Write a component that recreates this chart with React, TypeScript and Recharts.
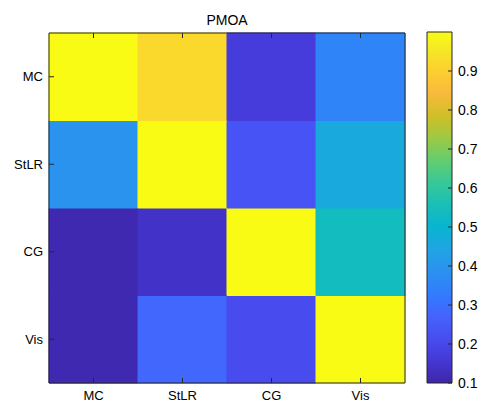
import React from "react";
import { BarChart, Bar, Cell, XAxis, YAxis } from "recharts";

const labels = ["MC", "StLR", "CG", "Vis"];
// rows top -> bottom, columns left -> right
const rowMC = [1.0, 0.92, 0.17, 0.35];
const rowStLR = [0.39, 1.0, 0.23, 0.46];
const rowCG = [0.11, 0.14, 1.0, 0.54];
const rowVis = [0.11, 0.28, 0.21, 1.0];
const matrix = [rowMC, rowStLR, rowCG, rowVis];
const cbTicks = [0.1, 0.2, 0.3, 0.4, 0.5, 0.6, 0.7, 0.8, 0.9];
const cMin = 0.1;
const cMax = 1.0;

// parula stops (MATLAB)
const parula = [
  [0.2422, 0.1504, 0.6603], [0.2706, 0.2147, 0.8364], [0.2813, 0.3006, 0.9414],
  [0.2699, 0.3892, 0.9906], [0.1963, 0.4847, 0.9892], [0.1687, 0.5703, 0.9359],
  [0.1248, 0.6459, 0.8883], [0.0297, 0.7082, 0.8163], [0.0964, 0.75, 0.712],
  [0.2161, 0.7843, 0.5923], [0.3909, 0.8029, 0.4354], [0.6174, 0.7876, 0.2612],
  [0.8203, 0.7498, 0.1535], [0.9728, 0.7298, 0.2394], [0.9892, 0.8136, 0.1885],
  [0.9597, 0.9135, 0.1423], [0.9769, 0.9839, 0.0805],
];
// last stop sits at the end, others evenly every 4/63
const stopPos = parula.map((_, i) => (i === parula.length - 1 ? 1 : (i * 4) / 63));

function colorAt(t: number) {
  const x = Math.max(0, Math.min(1, t));
  let i = 0;
  while (i < stopPos.length - 2 && x > stopPos[i + 1]) i++;
  const f = (x - stopPos[i]) / (stopPos[i + 1] - stopPos[i]);
  const c = parula[i].map((v, k) => Math.round(255 * (v + (parula[i + 1][k] - v) * f)));
  return `rgb(${c[0]},${c[1]},${c[2]})`;
}
const valueColor = (v: number) => colorAt((v - cMin) / (cMax - cMin));

// one stacked column per x category; r0 = top row
const data = labels.map((name, col) => ({
  name,
  r0: 1, r1: 1, r2: 1, r3: 1,
  c: matrix.map((row) => row[col]),
}));

const yTickPos = [3.5, 2.5, 1.5, 0.5];
const ink = "#262626";
const font = "'Liberation Sans', Arial, sans-serif";

export default function App() {
  return (
    <div style={{ position: "absolute", left: 0, top: 0, width: 484, height: 406, background: "#fff", fontFamily: font }}>
      <div style={{ position: "absolute", left: 49, width: 356, top: 12, textAlign: "center", fontSize: 14, color: "#000" }}>
        PMOA
      </div>
      <div style={{ position: "absolute", left: 0, top: 0 }}>
        <BarChart width={420} height={406} data={data} barCategoryGap={0} barGap={0}
          margin={{ top: 32, right: 14, bottom: 0, left: 0 }}>
          {[3, 2, 1, 0].map((r) => (
            <Bar key={r} dataKey={`r${r}`} stackId="s" isAnimationActive={false}>
              {data.map((d, i) => (
                <Cell key={i} fill={valueColor(d.c[r])} stroke={valueColor(d.c[r])} strokeWidth={1} />
              ))}
            </Bar>
          ))}
          <XAxis dataKey="name" height={23} tickSize={-5} tickMargin={13}
            axisLine={{ stroke: ink }} tickLine={{ stroke: ink }}
            tick={{ fill: "#000", fontSize: 13, fontFamily: font }} />
          <XAxis dataKey="name" xAxisId="top" orientation="top" height={1} tickSize={-5}
            tickFormatter={() => ""} axisLine={{ stroke: ink }} tickLine={{ stroke: ink }} />
          <YAxis type="number" domain={[0, 4]} ticks={yTickPos} width={49} tickSize={-5} tickMargin={11}
            tickFormatter={(v: number) => labels[yTickPos.indexOf(v)]}
            axisLine={{ stroke: ink }} tickLine={{ stroke: ink }}
            tick={{ fill: "#000", fontSize: 13, fontFamily: font }} />
          <YAxis type="number" yAxisId="right" orientation="right" domain={[0, 4]} ticks={yTickPos} width={1}
            tickSize={-5} tickFormatter={() => ""} axisLine={{ stroke: ink }} tickLine={{ stroke: ink }} />
        </BarChart>
      </div>
      <div style={{ position: "absolute", left: 420, top: 0 }}>
        <BarChart width={64} height={406} data={[{ name: "cb", v: [cMin, cMax] }]} barCategoryGap={0}
          margin={{ top: 32, right: 0, bottom: 23, left: 7 }}>
          <defs>
            <linearGradient id="parulaGrad" x1="0" y1="1" x2="0" y2="0">
              {parula.map((c, i) => (
                <stop key={i} offset={stopPos[i]}
                  stopColor={`rgb(${Math.round(c[0] * 255)},${Math.round(c[1] * 255)},${Math.round(c[2] * 255)})`} />
              ))}
            </linearGradient>
          </defs>
          <XAxis dataKey="name" hide />
          <Bar dataKey="v" fill="url(#parulaGrad)" stroke={ink} strokeWidth={1} isAnimationActive={false} />
          <YAxis type="number" orientation="right" domain={[cMin, cMax]} ticks={cbTicks} width={32}
            tickSize={-4} tickMargin={10} axisLine={false} tickLine={{ stroke: ink }}
            tick={{ fill: "#000", fontSize: 14, fontFamily: font, textAnchor: "start" }} />
        </BarChart>
      </div>
    </div>
  );
}
